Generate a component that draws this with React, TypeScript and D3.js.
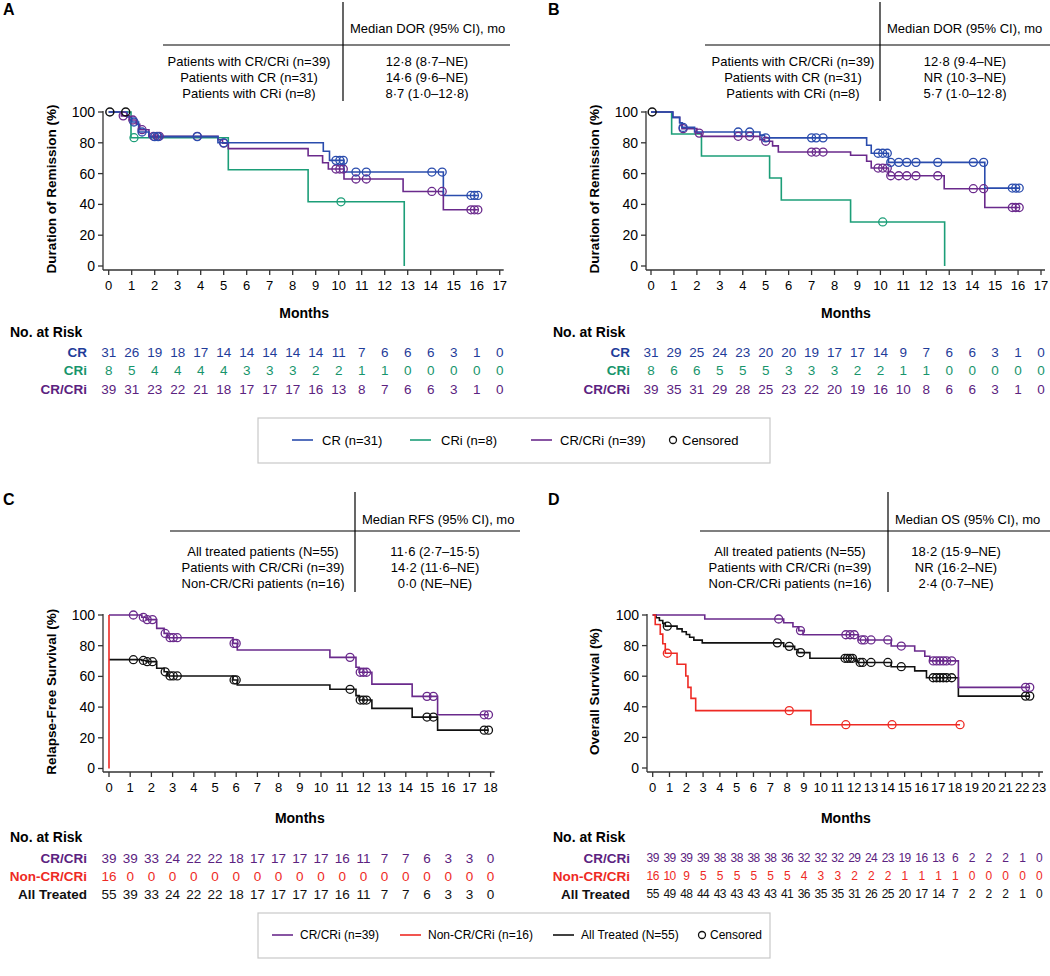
import React from "react";
import * as d3 from "d3";

const FONT = "'Liberation Sans', Arial, Helvetica, sans-serif";
const BLUE = "#2a4cad";
const GREEN = "#1c9e78";
const PURPLE = "#6a2a8c";
const RED = "#ee2a24";
const BLACK = "#111111";
const BLUE_T = "#1f3c99";
const GREEN_T = "#17956c";
const PURPLE_T = "#5b2280";

type Pt = [number, number];

// ---------- Tick labels ----------
const yTicks = [0, 20, 40, 60, 80, 100];
const monthsAB = [0, 1, 2, 3, 4, 5, 6, 7, 8, 9, 10, 11, 12, 13, 14, 15, 16, 17];
const monthsC = [0, 1, 2, 3, 4, 5, 6, 7, 8, 9, 10, 11, 12, 13, 14, 15, 16, 17, 18];
const monthsD = [0, 1, 2, 3, 4, 5, 6, 7, 8, 9, 10, 11, 12, 13, 14, 15, 16, 17, 18, 19, 20, 21, 22, 23];

// ---------- Panel A (DOR) ----------
const aCR: Pt[] = [[0, 100], [0.8, 96.8], [1.0, 93.5], [1.3, 87], [1.75, 84], [4.75, 80], [9.33, 74.5], [9.6, 68.6], [10.23, 61], [14.55, 45.8]];
const aCRCens = [1.1, 1.45, 2.0, 2.15, 3.85, 5.0, 9.88, 10.05, 10.2, 10.75, 11.2, 14.05, 14.5, 15.75, 15.9, 16.05];
const aCRi: Pt[] = [[0, 100], [0.97, 83.3], [5.2, 62.5], [8.67, 41.7], [12.85, 0]];
const aCRiCens = [1.1, 10.1];
const aAll: Pt[] = [[0, 100], [0.55, 97.5], [0.9, 94.8], [1.2, 92], [1.35, 88.5], [1.75, 84.2], [4.75, 82], [4.95, 79.8], [5.2, 76.2], [8.67, 71.6], [9.3, 67], [9.55, 63], [10.23, 56.5], [12.8, 48.4], [14.55, 36.5]];
const aAllCens = [0.63, 1.05, 1.45, 1.95, 2.1, 2.2, 3.85, 5.0, 9.88, 10.05, 10.2, 10.75, 11.2, 14.05, 14.5, 15.75, 15.9, 16.05];
const aOverlapCens = [0.05, 0.74];
const aRiskCR = [31, 26, 19, 18, 17, 14, 14, 14, 14, 14, 11, 7, 6, 6, 6, 3, 1, 0];
const aRiskCRi = [8, 5, 4, 4, 4, 4, 3, 3, 3, 2, 2, 1, 1, 0, 0, 0, 0, 0];
const aRiskAll = [39, 31, 23, 22, 21, 18, 17, 17, 17, 16, 13, 8, 7, 6, 6, 3, 1, 0];
const aTableLeft = ["Patients with CR/CRi (n=39)", "Patients with CR (n=31)", "Patients with CRi (n=8)"];
const aTableRight = ["12·8 (8·7–NE)", "14·6 (9·6–NE)", "8·7 (1·0–12·8)"];

// ---------- Panel B (DOR) ----------
const bCR: Pt[] = [[0, 100], [0.95, 96.5], [1.25, 93], [1.35, 90], [1.9, 87], [4.75, 85], [4.95, 83.2], [9.4, 78.4], [9.6, 73.2], [10.35, 67.3], [14.55, 50.6]];
const bCRCens = [1.4, 3.8, 4.3, 5.0, 7.0, 7.2, 7.5, 9.9, 10.1, 10.3, 10.45, 10.8, 11.15, 11.55, 12.5, 14.05, 14.5, 15.75, 15.9, 16.05];
const bCRi: Pt[] = [[0, 100], [0.9, 85.7], [2.2, 71.4], [5.17, 57.1], [5.68, 42.9], [8.7, 28.6], [12.8, 0]];
const bCRiCens = [10.1];
const bAll: Pt[] = [[0, 100], [0.95, 96.5], [1.25, 93], [1.35, 89.2], [2.0, 86.3], [2.2, 84.2], [4.75, 82], [4.95, 81], [5.3, 78], [5.55, 74], [8.7, 71.9], [9.4, 68], [9.6, 63.6], [10.35, 58.6], [12.78, 50.2], [14.55, 38]];
const bAllCens = [1.4, 2.1, 3.8, 4.3, 5.0, 7.0, 7.2, 7.5, 9.9, 10.1, 10.3, 10.45, 10.8, 11.15, 11.55, 12.5, 14.05, 14.5, 15.75, 15.9, 16.05];
const bOverlapCens = [0.05];
const bRiskCR = [31, 29, 25, 24, 23, 20, 20, 19, 17, 17, 14, 9, 7, 6, 6, 3, 1, 0];
const bRiskCRi = [8, 6, 6, 5, 5, 5, 3, 3, 3, 2, 2, 1, 1, 0, 0, 0, 0, 0];
const bRiskAll = [39, 35, 31, 29, 28, 25, 23, 22, 20, 19, 16, 10, 8, 6, 6, 3, 1, 0];
const bTableLeft = ["Patients with CR/CRi (n=39)", "Patients with CR (n=31)", "Patients with CRi (n=8)"];
const bTableRight = ["12·8 (9·4–NE)", "NR (10·3–NE)", "5·7 (1·0–12·8)"];

// ---------- Panel C (RFS) ----------
const cCR: Pt[] = [[0, 100], [1.55, 98.5], [1.75, 97], [2.25, 91.3], [2.6, 88], [2.75, 85.2], [5.85, 81.5], [6.05, 77.2], [10.42, 72.4], [11.65, 66], [11.8, 62.7], [12.4, 55], [14.3, 47], [15.5, 35]];
const cCRCens = [1.15, 1.62, 1.8, 2.05, 2.65, 2.88, 3.03, 3.22, 5.9, 6.0, 11.37, 11.85, 12.0, 12.15, 15.0, 15.3, 17.7, 17.9];
const cNon: Pt[] = [[0, 100], [0, 0]];
const cAll: Pt[] = [[0, 70.9], [1.55, 70.4], [1.75, 69.6], [2.25, 65.3], [2.6, 63], [2.75, 60.3], [5.85, 57.7], [6.05, 54.4], [10.42, 51.6], [11.65, 47.5], [11.8, 44.6], [12.4, 39.2], [14.3, 33.5], [15.5, 25]];
const cAllCens = [1.15, 1.62, 1.8, 2.05, 2.65, 2.88, 3.03, 3.22, 5.9, 6.0, 11.37, 11.85, 12.0, 12.15, 15.0, 15.3, 17.7, 17.9];
const cRiskCR = [39, 39, 33, 24, 22, 22, 18, 17, 17, 17, 17, 16, 11, 7, 7, 6, 3, 3, 0];
const cRiskNon = [16, 0, 0, 0, 0, 0, 0, 0, 0, 0, 0, 0, 0, 0, 0, 0, 0, 0, 0];
const cRiskAll = [55, 39, 33, 24, 22, 22, 18, 17, 17, 17, 17, 16, 11, 7, 7, 6, 3, 3, 0];
const cTableLeft = ["All treated patients (N=55)", "Patients with CR/CRi (n=39)", "Non-CR/CRi patients (n=16)"];
const cTableRight = ["11·6 (2·7–15·5)", "14·2 (11·6–NE)", "0·0 (NE–NE)"];

// ---------- Panel D (OS) ----------
const dCR: Pt[] = [[0, 100], [3.1, 97.4], [7.8, 94.9], [8.35, 92.3], [8.7, 89.8], [8.95, 87.1], [12.25, 83.7], [14.2, 79.7], [15.6, 76.5], [16.2, 73], [16.5, 70], [18.2, 52.7]];
const dCRCens = [7.5, 8.8, 11.5, 11.75, 12.0, 12.45, 12.6, 13.0, 14.0, 14.8, 16.7, 16.9, 17.1, 17.3, 17.5, 17.8, 22.2, 22.45];
const dNon: Pt[] = [[0, 100], [0.15, 93.75], [0.45, 87.5], [0.6, 81.25], [0.75, 75], [1.45, 67.8], [1.97, 60.1], [2.1, 52.7], [2.28, 45.5], [2.56, 37.5], [9.42, 28.3]];
const dNonCens = [0.87, 8.13, 11.5, 14.25, 18.3];
const dAll: Pt[] = [[0, 100], [0.2, 98.2], [0.4, 96.4], [0.6, 94.5], [0.75, 92.7], [1.45, 90.9], [1.75, 89.1], [2.0, 87.3], [2.2, 85.5], [2.45, 83.6], [2.95, 81.8], [7.8, 79.5], [8.45, 77.5], [8.65, 75.4], [9.36, 71.7], [12.05, 70], [12.2, 69], [14.2, 66.2], [15.6, 63.5], [16.3, 59], [18.2, 47]];
const dAllCens = [0.87, 7.42, 8.13, 8.8, 11.45, 11.6, 11.75, 11.9, 12.35, 12.5, 13.0, 14.0, 14.8, 16.7, 16.9, 17.1, 17.3, 17.5, 17.8, 22.2, 22.45];
const dRiskCR = [39, 39, 39, 39, 38, 38, 38, 38, 36, 32, 32, 32, 29, 24, 23, 19, 16, 13, 6, 2, 2, 2, 1, 0];
const dRiskNon = [16, 10, 9, 5, 5, 5, 5, 5, 5, 4, 3, 3, 2, 2, 2, 1, 1, 1, 1, 0, 0, 0, 0, 0];
const dRiskAll = [55, 49, 48, 44, 43, 43, 43, 43, 41, 36, 35, 35, 31, 26, 25, 20, 17, 14, 7, 2, 2, 2, 1, 0];
const dTableLeft = ["All treated patients (N=55)", "Patients with CR/CRi (n=39)", "Non-CR/CRi patients (n=16)"];
const dTableRight = ["18·2 (15·9–NE)", "NR (16·2–NE)", "2·4 (0·7–NE)"];

type Curve = { steps: Pt[]; end: number; cens: number[]; color: string };
type RiskRow = { label: string; color: string; values: number[] };

function survAt(steps: Pt[], t: number) {
  let v = steps[0][1];
  for (const [st, sv] of steps) if (st <= t) v = sv;
  return v;
}

type PanelProps = {
  letter: string;
  ox: number;
  top: number;
  xRange: [number, number];
  months: number[];
  yRange: [number, number];
  axisX: number;
  axisY: number;
  ylabel: string;
  ylabelX: number;
  curves: Curve[];
  overlap?: number[];
  table: { header: string; left: string[]; right: string[]; vx: number; hx1: number; hx2: number; lc: number; rc: number; rowY: number[]; headY: number; hy: number; vy1: number; vy2: number };
  risk: { rows: RiskRow[]; monthsY: number; noY: number; rowY: number[]; labelX: number; noX: number; small?: boolean };
};

function Panel(p: PanelProps) {
  const x = d3.scaleLinear().domain([0, p.months[p.months.length - 1]]).range(p.xRange);
  const y = d3.scaleLinear().domain([0, 100]).range(p.yRange);
  const line = d3.line<Pt>().x((d) => x(d[0])).y((d) => y(d[1])).curve(d3.curveStepAfter);
  const t = p.table;
  const r = p.risk;
  const xMid = (p.xRange[0] + p.xRange[1]) / 2;
  return (
    <g fontFamily={FONT}>
      <text x={p.ox + 3} y={p.top + 15} fontSize={16} fontWeight="bold">{p.letter}</text>
      <line x1={t.vx} x2={t.vx} y1={t.vy1} y2={t.vy2} stroke="#000" strokeWidth={1.2} />
      <line x1={t.hx1} x2={t.hx2} y1={t.hy} y2={t.hy} stroke="#000" strokeWidth={1.2} />
      <text x={t.vx + 7} y={t.headY} dy="0.35em" fontSize={13}>{t.header}</text>
      {t.left.map((s, i) => (
        <text key={"l" + i} x={t.lc} y={t.rowY[i]} dy="0.35em" fontSize={13} textAnchor="middle">{s}</text>
      ))}
      {t.right.map((s, i) => (
        <text key={"r" + i} x={t.rc} y={t.rowY[i]} dy="0.35em" fontSize={13} textAnchor="middle">{s}</text>
      ))}
      <line x1={p.axisX} x2={p.axisX} y1={y(100) - 1} y2={p.axisY} stroke="#333" strokeWidth={1.3} />
      {yTicks.map((v) => (
        <g key={"yt" + v}>
          <line x1={p.axisX - 5} x2={p.axisX} y1={y(v)} y2={y(v)} stroke="#333" strokeWidth={1.3} />
          <text x={p.axisX - 8} y={y(v)} dy="0.35em" fontSize={14} textAnchor="end">{v}</text>
        </g>
      ))}
      <line x1={p.axisX} x2={p.xRange[1] + 4} y1={p.axisY} y2={p.axisY} stroke="#333" strokeWidth={1.3} />
      {p.months.map((m) => (
        <g key={"xt" + m}>
          <line x1={x(m)} x2={x(m)} y1={p.axisY} y2={p.axisY + 5} stroke="#333" strokeWidth={1.3} />
          <text x={x(m)} y={p.axisY + 15} dy="0.35em" fontSize={13} textAnchor="middle">{m}</text>
        </g>
      ))}
      <text transform={`translate(${p.ylabelX},${(y(0) + y(100)) / 2}) rotate(-90)`} dy="0.35em" fontSize={13.5} fontWeight="bold" textAnchor="middle">{p.ylabel}</text>
      {p.curves.map((c, i) => {
        const pts: Pt[] = [...c.steps, [c.end, c.steps[c.steps.length - 1][1]]];
        return <path key={"c" + i} d={line(pts) || ""} fill="none" stroke={c.color} strokeWidth={1.6} />;
      })}
      {p.curves.map((c, i) => (
        <g key={"cs" + i}>
          {c.cens.map((ct, j) => (
            <circle key={j} cx={x(ct)} cy={y(survAt(c.steps, ct))} r={4} fill="none" stroke={c.color} strokeWidth={1.3} />
          ))}
        </g>
      ))}
      {(p.overlap || []).map((ct, j) => (
        <circle key={"o" + j} cx={x(ct)} cy={y(100)} r={4} fill="none" stroke={BLACK} strokeWidth={1.5} />
      ))}
      <text x={xMid} y={r.monthsY} dy="0.35em" fontSize={14} fontWeight="bold" textAnchor="middle">Months</text>
      <text x={r.noX} y={r.noY} dy="0.35em" fontSize={14} fontWeight="bold">No. at Risk</text>
      {r.rows.map((row, i) => (
        <g key={"rr" + i} fill={row.color}>
          <text x={r.labelX} y={r.rowY[i]} dy="0.35em" fontSize={13.5} fontWeight="bold" textAnchor="end">{row.label}</text>
          {row.values.map((v, j) => (
            <text key={j} x={x(p.months[j])} y={r.rowY[i]} dy="0.35em" fontSize={r.small ? 12 : 13.5} letterSpacing={r.small ? -0.6 : 0} textAnchor="middle">{v}</text>
          ))}
        </g>
      ))}
    </g>
  );
}

type LegendItem = { kind: "line" | "circle"; color: string; label: string; x: number; tx: number };

function Legend({ top, items, fontSize }: { top: number; items: LegendItem[]; fontSize: number }) {
  const cy = top + 22;
  return (
    <g fontFamily={FONT}>
      <rect x={258} y={top} width={512} height={45} fill="#fff" stroke="#c8c8c8" strokeWidth={1.2} />
      {items.map((it, i) => (
        <g key={i}>
          {it.kind === "line" ? (
            <line x1={it.x} x2={it.x + 21} y1={cy} y2={cy} stroke={it.color} strokeWidth={1.6} />
          ) : (
            <circle cx={it.x + 4} cy={cy} r={3.5} fill="none" stroke={it.color} strokeWidth={1.3} />
          )}
          <text x={it.tx} y={cy} dy="0.35em" fontSize={fontSize}>{it.label}</text>
        </g>
      ))}
    </g>
  );
}

export default function App() {
  const rowsTop = [61, 77, 93];
  const rowsBot = [551, 567, 583];
  return (
    <svg width={1050} height={976} style={{ position: "absolute", left: 0, top: 0, background: "#fff" }}>
      <rect width={1050} height={976} fill="#fff" />
      <Panel
        letter="A" ox={0} top={0}
        xRange={[108.7, 499.7]} months={monthsAB} yRange={[266, 112]} axisX={103} axisY={270}
        ylabel="Duration of Remission (%)" ylabelX={51}
        curves={[
          { steps: aCRi, end: 12.85, cens: aCRiCens, color: GREEN },
          { steps: aAll, end: 16.05, cens: aAllCens, color: PURPLE },
          { steps: aCR, end: 16.05, cens: aCRCens, color: BLUE },
        ]}
        overlap={aOverlapCens}
        table={{ header: "Median DOR (95% CI), mo", left: aTableLeft, right: aTableRight, vx: 343, hx1: 163, hx2: 510, lc: 249, rc: 427, rowY: rowsTop, headY: 28, hy: 45, vy1: 2, vy2: 101 }}
        risk={{ rows: [{ label: "CR", color: BLUE_T, values: aRiskCR }, { label: "CRi", color: GREEN_T, values: aRiskCRi }, { label: "CR/CRi", color: PURPLE_T, values: aRiskAll }], monthsY: 313, noY: 332, rowY: [352.5, 370.5, 389], labelX: 87, noX: 10 }}
      />
      <Panel
        letter="B" ox={545} top={0}
        xRange={[651, 1041]} months={monthsAB} yRange={[266, 112]} axisX={646} axisY={270}
        ylabel="Duration of Remission (%)" ylabelX={594}
        curves={[
          { steps: bCRi, end: 12.8, cens: bCRiCens, color: GREEN },
          { steps: bAll, end: 16.05, cens: bAllCens, color: PURPLE },
          { steps: bCR, end: 16.05, cens: bCRCens, color: BLUE },
        ]}
        overlap={bOverlapCens}
        table={{ header: "Median DOR (95% CI), mo", left: bTableLeft, right: bTableRight, vx: 880, hx1: 705, hx2: 1050, lc: 793, rc: 965, rowY: rowsTop, headY: 28, hy: 45, vy1: 2, vy2: 101 }}
        risk={{ rows: [{ label: "CR", color: BLUE_T, values: bRiskCR }, { label: "CRi", color: GREEN_T, values: bRiskCRi }, { label: "CR/CRi", color: PURPLE_T, values: bRiskAll }], monthsY: 313, noY: 332, rowY: [352.5, 370.5, 389], labelX: 630, noX: 553 }}
      />
      <Legend top={418} fontSize={13} items={[
        { kind: "line", color: BLUE, label: "CR (n=31)", x: 292, tx: 322 },
        { kind: "line", color: GREEN, label: "CRi (n=8)", x: 410, tx: 441 },
        { kind: "line", color: PURPLE, label: "CR/CRi (n=39)", x: 531, tx: 560 },
        { kind: "circle", color: BLACK, label: "Censored", x: 669, tx: 682 },
      ]} />
      <Panel
        letter="C" ox={0} top={490}
        xRange={[109, 490.6]} months={monthsC} yRange={[768.5, 615]} axisX={103} axisY={772}
        ylabel="Relapse-Free Survival (%)" ylabelX={51}
        curves={[
          { steps: cAll, end: 17.9, cens: cAllCens, color: BLACK },
          { steps: cCR, end: 17.9, cens: cCRCens, color: PURPLE },
          { steps: cNon, end: 0, cens: [], color: RED },
        ]}
        table={{ header: "Median RFS (95% CI), mo", left: cTableLeft, right: cTableRight, vx: 355, hx1: 170, hx2: 520, lc: 263, rc: 435, rowY: rowsBot, headY: 519, hy: 531, vy1: 492, vy2: 592 }}
        risk={{ rows: [{ label: "CR/CRi", color: PURPLE_T, values: cRiskCR }, { label: "Non-CR/CRi", color: RED, values: cRiskNon }, { label: "All Treated", color: BLACK, values: cRiskAll }], monthsY: 818, noY: 837, rowY: [858, 876, 894], labelX: 87, noX: 10 }}
      />
      <Panel
        letter="D" ox={545} top={490}
        xRange={[652.7, 1039]} months={monthsD} yRange={[768, 615]} axisX={647} axisY={772}
        ylabel="Overall Survival (%)" ylabelX={594}
        curves={[
          { steps: dAll, end: 22.45, cens: dAllCens, color: BLACK },
          { steps: dCR, end: 22.45, cens: dCRCens, color: PURPLE },
          { steps: dNon, end: 18.3, cens: dNonCens, color: RED },
        ]}
        table={{ header: "Median OS (95% CI), mo", left: dTableLeft, right: dTableRight, vx: 888, hx1: 700, hx2: 1050, lc: 790, rc: 956, rowY: rowsBot, headY: 519, hy: 531, vy1: 492, vy2: 592 }}
        risk={{ rows: [{ label: "CR/CRi", color: PURPLE_T, values: dRiskCR }, { label: "Non-CR/CRi", color: RED, values: dRiskNon }, { label: "All Treated", color: BLACK, values: dRiskAll }], monthsY: 818, noY: 837, rowY: [858, 876, 894], labelX: 630, noX: 553, small: true }}
      />
      <Legend top={913} fontSize={12} items={[
        { kind: "line", color: PURPLE, label: "CR/CRi (n=39)", x: 272, tx: 300 },
        { kind: "line", color: RED, label: "Non-CR/CRi (n=16)", x: 400, tx: 428 },
        { kind: "line", color: BLACK, label: "All Treated (N=55)", x: 553, tx: 581 },
        { kind: "circle", color: BLACK, label: "Censored", x: 698, tx: 710 },
      ]} />
    </svg>
  );
}
